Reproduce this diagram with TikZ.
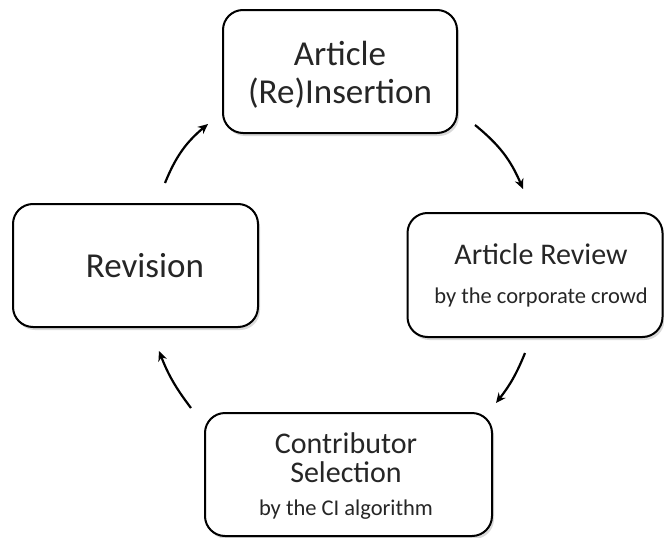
\documentclass[tikz,border=0pt]{standalone}
\usepackage{fontspec}
\setmainfont{Carlito}
\usetikzlibrary{arrows.meta,shadows}
\begin{document}
\begin{tikzpicture}[x=1pt,y=-1pt,
  stagebox/.style={draw=black,line width=2pt,rounded corners=20pt,fill=white,
    inner sep=0pt,drop shadow={shadow xshift=2pt,shadow yshift=-3pt,opacity=0.25,fill=black!60}},
  big/.style={anchor=base,inner sep=0pt,text=black!85,font=\fontsize{35}{40}\selectfont},
  mid/.style={anchor=base,inner sep=0pt,text=black!85,font=\fontsize{30}{34}\selectfont},
  small/.style={anchor=base,inner sep=0pt,text=black!85,font=\fontsize{22.5}{26}\selectfont},
  flow/.style={line width=2.2pt,-{Stealth[length=10pt,width=9pt]},bend left=14}]
\useasboundingbox (0,0) rectangle (664,538);
\node[stagebox,minimum width=234pt,minimum height=123pt] (ins) at (340,71.5) {};
\node[stagebox,minimum width=255pt,minimum height=124pt] (rev) at (535,275) {};
\node[stagebox,minimum width=287pt,minimum height=123pt] (sel) at (348.5,474.5) {};
\node[stagebox,minimum width=245pt,minimum height=123pt] (rvs) at (135.5,265.5) {};

\node[big] (t1) at (340,65) {Article};
\node[big] (t2) at (340,103) {(Re)Insertion};
\node[mid] (t3) at (541,264) {Article Review};
\node[small] (t4) at (541,303) {by the corporate crowd};
\node[mid] (t5) at (346,453) {Contributor};
\node[mid] (t6) at (346,482) {Selection};
\node[small] (t7) at (346,515) {by the CI algorithm};
\node[big] (t8) at (145,277) {Revision};

\coordinate (a1s) at (165,183);
\coordinate (a1e) at (208,124);
\coordinate (a2s) at (475,125);
\coordinate (a2e) at (523,189);
\coordinate (a3s) at (525,353);
\coordinate (a3e) at (496,403);
\coordinate (a4s) at (191,408);
\coordinate (a4e) at (159,351);
\draw[flow] (a1s) to (a1e);
\draw[flow] (a2s) to (a2e);
\draw[flow,bend left=8] (a3s) to (a3e);
\draw[flow,bend left=8] (a4s) to (a4e);
\end{tikzpicture}
\end{document}
